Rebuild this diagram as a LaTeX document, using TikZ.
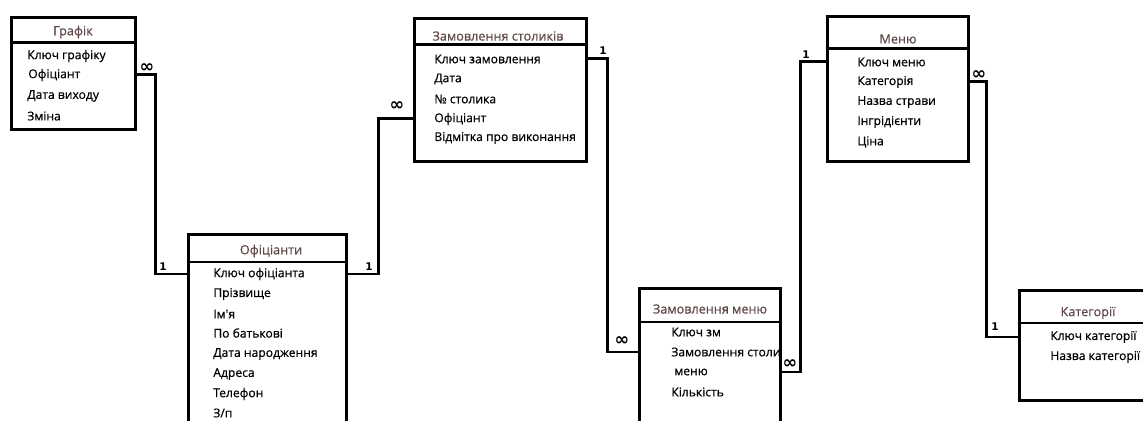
\documentclass[tikz,border=0pt]{standalone}
\usepackage{fontspec}
\setmainfont{Open Sans}
\newfontfamily\heavyfont{Open Sans}[FakeBold=0.6]
\newfontfamily\symfont{DejaVu Sans}
\usetikzlibrary{positioning}
\definecolor{titlegray}{RGB}{95,72,72}
\tikzset{
    x=0.02cm, y=-0.02cm, % one unit is one pixel of the scan
    entity/.style={draw, line width=1.7pt, inner sep=0pt}, % table boxes
    enttitle/.style={text=titlegray, inner sep=0pt, font=\heavyfont\fontsize{7.2}{8}\selectfont},
    field/.style={anchor=west, inner sep=0pt, font=\heavyfont\fontsize{6.9}{8}\selectfont},
    rel/.style={line width=1.7pt}, % links between tables
    card/.style={inner sep=0pt, font=\symfont\bfseries\fontsize{6}{7}\selectfont},
    many/.style={card, font=\symfont\bfseries\fontsize{10}{10}\selectfont},
}
\begin{document}
\begin{tikzpicture}
    \useasboundingbox (0,0) rectangle (1143,421);
    \clip (0,0) rectangle (1143,421);

    % tables
    \node[entity, minimum width=2.48cm, minimum height=2.24cm] (grafik) at (73.5,73.5) {};
    \node[entity, minimum width=3.16cm, minimum height=4.11cm] (ofic) at (267.5,337.25) {};
    \node[entity, minimum width=3.44cm, minimum height=2.86cm] (zst) at (500.5,90) {};
    \node[entity, minimum width=2.82cm, minimum height=3.03cm] (zm) at (710,364.25) {};
    \node[entity, minimum width=2.82cm, minimum height=2.90cm] (menu) at (898,89) {};
    \node[entity, minimum width=3.01cm, minimum height=2.20cm] (kat) at (1094.75,345.5) {};

    % header lines
    \draw[entity] (grafik.west |- 0,43) -- (grafik.east |- 0,43);
    \draw[entity] (ofic.west |- 0,262) -- (ofic.east |- 0,262);
    \draw[entity] (zst.west |- 0,45) -- (zst.east |- 0,45);
    \draw[entity] (zm.west |- 0,322) -- (zm.east |- 0,322);
    \draw[entity] (menu.west |- 0,49) -- (menu.east |- 0,49);
    \draw[entity] (kat.west |- 0,323) -- (kat.east |- 0,323);

    % titles
    \node[enttitle] (grafikT) at (73,32) {Графік};
    \node[enttitle] (oficT) at (271,251) {Офіціанти};
    \node[enttitle] (zstT) at (498,36) {Замовлення столиків};
    \node[enttitle] (zmT) at (710,309) {Замовлення меню};
    \node[enttitle] (menuT) at (898,39) {Меню};
    \node[enttitle] (katT) at (1088,313) {Категорії};

    % fields
    \node[field] (gr1) at (27,56) {Ключ графіку};
    \node[field] (gr2) at (28,75) {Офіціант};
    \node[field] (gr3) at (27,96) {Дата виходу};
    \node[field] (gr4) at (27,116) {Зміна};

    \node[field] (of1) at (213,274) {Ключ офіціанта};
    \node[field] (of2) at (213,294) {Прізвище};
    \node[field] (of3) at (213,314) {Ім'я};
    \node[field] (of4) at (213,333) {По батькові};
    \node[field] (of5) at (213,354) {Дата народження};
    \node[field] (of6) at (213,374) {Адреса};
    \node[field] (of7) at (213,394) {Телефон};
    \node[field] (of8) at (213,413) {З/п};

    \node[field] (zs1) at (434,59) {Ключ замовлення};
    \node[field] (zs2) at (434,79) {Дата};
    \node[field] (zs3) at (434,99) {№ столика};
    \node[field] (zs4) at (434,119) {Офіціант};
    \node[field] (zs5) at (434,138) {Відмітка про виконання};

    \node[field] (zm1) at (671,332) {Ключ зм};
    \node[field] (zm2) at (671,352) {Замовлення столи};
    \node[field] (zm3) at (674,372) {меню};
    \node[field] (zm4) at (671,392) {Кількість};

    \node[field] (mn1) at (857,62) {Ключ меню};
    \node[field] (mn2) at (857,82) {Категорія};
    \node[field] (mn3) at (857,102) {Назва страви};
    \node[field] (mn4) at (857,122) {Інгрідієнти};
    \node[field] (mn5) at (857,142) {Ціна};

    \node[field] (kt1) at (1050,337) {Ключ категорії};
    \node[field] (kt2) at (1050,357) {Назва категорії};

    % links
    \draw[rel] (grafik.east |- gr2) -- ++(19,0) |- (ofic.west |- of1);
    \draw[rel] (ofic.east |- of1) -- ++(31,0) |- (zst.west |- zs4);
    \draw[rel] (zst.east |- zs1) -- ++(20,0) |- (zm.west |- zm2);
    \draw[rel] (zm.east |- zm3) -- ++(19,0) |- (menu.west |- mn1);
    \draw[rel] (menu.east |- mn2) -- ++(17,0) |- (kat.west |- kt1);

    % cardinalities
    \node[many] (c1) at (147,68) {∞};
    \node[card] (c2) at (163,267) {1};
    \node[card] (c3) at (369,267) {1};
    \node[many] (c4) at (397,106) {∞};
    \node[card] (c5) at (603,51) {1};
    \node[many] (c6) at (622,341) {∞};
    \node[many] (c7) at (790,364) {∞};
    \node[card] (c8) at (806,55) {1};
    \node[many] (c9) at (979,75) {∞};
    \node[card] (c10) at (995,327) {1};
\end{tikzpicture}
\end{document}
